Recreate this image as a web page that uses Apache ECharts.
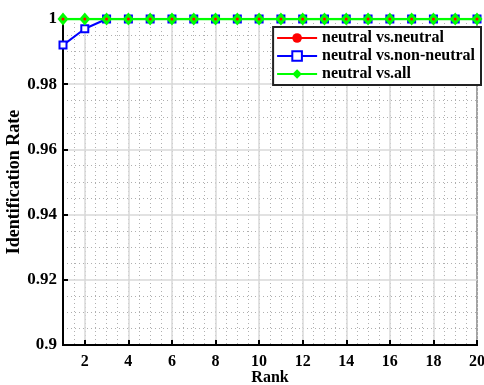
<!DOCTYPE html>
<html>
<head>
<meta charset="utf-8">
<script src="https://cdn.jsdelivr.net/npm/echarts@6/dist/echarts.min.js"></script>
<style>
  html, body { margin: 0; padding: 0; background: #fff; }
  #chart { width: 484px; height: 385px; }
</style>
</head>
<body>
<div id="chart"></div>
<script>
// ranks on the x axis
const ranks = ["1","2","3","4","5","6","7","8","9","10","11","12","13","14","15","16","17","18","19","20"];
// identification rate per rank
const neutralVsNeutral = [1,1,1,1,1,1,1,1,1,1,1,1,1,1,1,1,1,1,1,1];
const neutralVsNonNeutral = [0.992,0.997,1,1,1,1,1,1,1,1,1,1,1,1,1,1,1,1,1,1];
const neutralVsAll = [1,1,1,1,1,1,1,1,1,1,1,1,1,1,1,1,1,1,1,1];
const seriesNames = ["neutral vs.neutral", "neutral vs.non-neutral", "neutral vs.all"];

const font = "Liberation Serif";
const evenOnly = (i) => (i + 1) % 2 === 0;

const chart = echarts.init(document.getElementById("chart"));
const option = {
  animation: false,
  grid: {
    left: 63, right: 7, top: 19, bottom: 40,
    outerBoundsMode: "none",
    containLabel: false,
    show: true, borderColor: "#000", borderWidth: 2, backgroundColor: "transparent"
  },
  legend: {
    right: 3, top: 27,
    orient: "vertical",
    backgroundColor: "#fff",
    borderColor: "#222", borderWidth: 2,
    padding: [3, 6, 3, 3],
    itemGap: 2,
    itemWidth: 40, itemHeight: 12,
    textStyle: { fontFamily: font, fontWeight: "bold", fontSize: 16, color: "#000" },
    data: [
      { name: seriesNames[0], lineStyle: { color: "#ff0000", width: 2, opacity: 1 } },
      { name: seriesNames[1] },
      { name: seriesNames[2] }
    ]
  },
  xAxis: [
    {
      type: "category",
      data: ranks,
      boundaryGap: false,
      name: "Rank",
      nameLocation: "middle",
      nameGap: 25,
      nameMoveOverlap: false,
      nameTextStyle: { fontFamily: font, fontWeight: "bold", fontSize: 16, color: "#000" },
      axisLine: { lineStyle: { color: "#000", width: 2 } },
      axisTick: { inside: true, length: 5, interval: evenOnly, lineStyle: { color: "#000", width: 2 } },
      axisLabel: { interval: evenOnly, fontFamily: font, fontWeight: "bold", fontSize: 16, color: "#000", margin: 9 },
      splitLine: { show: true, interval: evenOnly, lineStyle: { color: "#d9d9d9", width: 1.5 } },
      z: 3
    },
    {
      // minor grid lines, every half rank
      type: "value",
      min: 1, max: 20, interval: 0.5,
      axisLine: { show: false },
      axisTick: { show: false },
      axisLabel: { show: false },
      splitLine: { show: true, lineStyle: { color: "#b0b0b0", width: 1, type: [1, 3] } }
    }
  ],
  yAxis: {
    type: "value",
    min: 0.9, max: 1, interval: 0.02,
    name: "Identification Rate",
    nameLocation: "middle",
    nameGap: 40,
    nameMoveOverlap: false,
    nameTextStyle: { fontFamily: font, fontWeight: "bold", fontSize: 18, color: "#000" },
    axisLine: { show: true, lineStyle: { color: "#000", width: 2 } },
    axisTick: { show: true, inside: true, length: 5, lineStyle: { color: "#000", width: 2 } },
    axisLabel: {
      fontFamily: font, fontWeight: "bold", fontSize: 17, color: "#000", margin: 6,
      formatter: (v) => String(+v.toFixed(2))
    },
    splitLine: { show: true, lineStyle: { color: "#d9d9d9", width: 1.5 } },
    minorTick: { show: true, splitNumber: 4, length: 0, lineStyle: { opacity: 0 } },
    minorSplitLine: { show: true, lineStyle: { color: "#b0b0b0", width: 1, type: [1, 3] } },
    z: 3
  },
  series: [
    {
      name: seriesNames[1],
      type: "line",
      data: neutralVsNonNeutral,
      symbol: "emptyRect", symbolSize: 7,
      itemStyle: { color: "#0000ff", borderWidth: 1.5 },
      lineStyle: { color: "#0000ff", width: 2 },
      z: 4
    },
    {
      name: seriesNames[2],
      type: "line",
      data: neutralVsAll,
      symbol: "diamond", symbolSize: [11, 13],
      itemStyle: { color: "#00ff00" },
      lineStyle: { color: "#00ff00", width: 2.5 },
      z: 5
    },
    {
      // drawn beneath the green line; only its markers peek through
      name: seriesNames[0],
      type: "line",
      data: neutralVsNeutral,
      symbol: "circle", symbolSize: 3,
      itemStyle: { color: "#ff0000" },
      lineStyle: { color: "#ff0000", width: 2, opacity: 0 },
      z: 6
    }
  ]
};
chart.setOption(option);
</script>
</body>
</html>
